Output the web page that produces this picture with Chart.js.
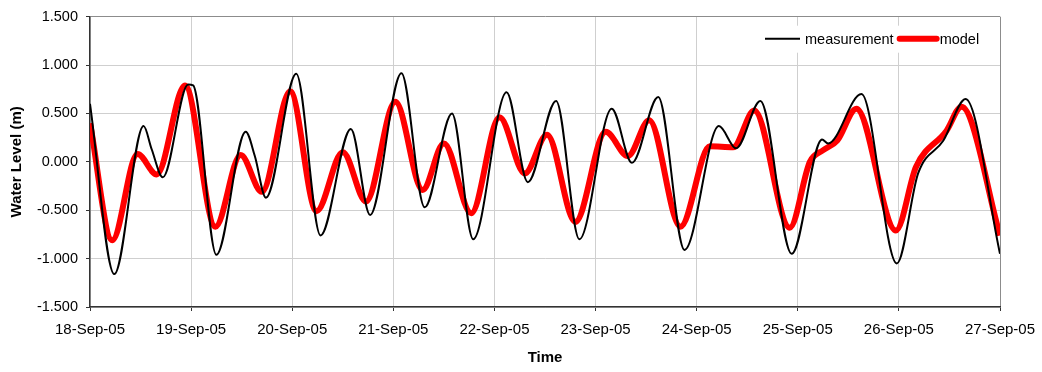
<!DOCTYPE html>
<html>
<head>
<meta charset="utf-8">
<script src="https://cdn.jsdelivr.net/npm/chart.js@4/dist/chart.umd.min.js"></script>
<style>
  html, body { margin: 0; padding: 0; background: #fff; }
</style>
</head>
<body>
<canvas id="myChart" width="1042" height="372"></canvas>
<script>
// x positions are days since 18-Sep-05 00:00
const dayLabels = [
    '18-Sep-05', '19-Sep-05', '20-Sep-05', '21-Sep-05', '22-Sep-05',
    '23-Sep-05', '24-Sep-05', '25-Sep-05', '26-Sep-05', '27-Sep-05'
];

const measTimes = [
    0.00, 0.24, 0.53, 0.61, 0.72, 0.97, 1.02, 1.25, 1.54, 1.63, 1.74,
    2.04, 2.28, 2.58, 2.77, 3.08, 3.31, 3.58, 3.79, 4.12, 4.33, 4.61,
    4.84, 5.16, 5.36, 5.62, 5.88, 6.22, 6.39, 6.63, 6.94, 7.24, 7.30,
    7.63, 7.98, 8.19, 8.44, 8.66, 9.00
];
const measLevels = [
    0.60, -1.16, 0.37, 0.13, -0.16, 0.80, 0.79, -0.96, 0.31, 0.06, -0.37,
    0.91, -0.76, 0.34, -0.55, 0.915, -0.47, 0.50, -0.80, 0.72, -0.21, 0.63,
    -0.80, 0.55, -0.01, 0.67, -0.91, 0.37, 0.14, 0.63, -0.95, 0.23, 0.19,
    0.70, -1.05, -0.12, 0.22, 0.65, -0.95
];

const modelTimes = [
    0.00, 0.22, 0.47, 0.66, 0.94, 1.24, 1.49, 1.70, 1.98, 2.24, 2.50,
    2.73, 3.02, 3.29, 3.50, 3.77, 4.05, 4.30, 4.52, 4.80, 5.10, 5.32,
    5.53, 5.84, 6.13, 6.36, 6.57, 6.92, 7.12, 7.25, 7.39, 7.58, 7.97,
    8.17, 8.47, 8.62, 9.00
];
const modelLevels = [
    0.40, -0.81, 0.08, -0.13, 0.79, -0.67, 0.07, -0.31, 0.73, -0.51, 0.10,
    -0.41, 0.62, -0.29, 0.19, -0.53, 0.46, -0.12, 0.28, -0.62, 0.31, 0.06,
    0.43, -0.67, 0.16, 0.15, 0.53, -0.68, 0.00, 0.12, 0.22, 0.55, -0.71,
    -0.05, 0.32, 0.57, -0.76
];

const toPoints = (xs, ys) => xs.map((x, i) => ({ x: x, y: ys[i] }));

const FONT = "'Liberation Sans', Arial, sans-serif";

// legend drawn inside the plot area, top right, on a white box
const boxLegend = {
    id: 'boxLegend',
    afterDatasetsDraw(chart) {
        const ctx = chart.ctx;
        const area = chart.chartArea;
        const cy = area.top + 22;
        let x = area.right - 235;
        ctx.save();
        ctx.fillStyle = '#fff';
        ctx.fillRect(x, area.top + 9, 220, 27);
        ctx.font = '14.5px ' + FONT;
        ctx.textBaseline = 'middle';
        ctx.fillStyle = '#000';
        chart.data.datasets.forEach((ds, i) => {
            const len = i === 0 ? 35 : 37;
            ctx.strokeStyle = ds.borderColor;
            ctx.lineWidth = ds.borderWidth;
            ctx.lineCap = i === 0 ? 'butt' : 'round';
            ctx.beginPath();
            ctx.moveTo(x, cy);
            ctx.lineTo(x + len, cy);
            ctx.stroke();
            x += len + (i === 0 ? 5 : 3);
            ctx.fillText(ds.label, x, cy + 1);
            x += ctx.measureText(ds.label).width + 6;
        });
        ctx.restore();
    }
};

const data = {
    datasets: [{
        label: 'measurement',
        data: toPoints(measTimes, measLevels),
        borderColor: '#000',
        borderWidth: 2,
        pointRadius: 0,
        cubicInterpolationMode: 'monotone'
    }, {
        label: 'model',
        data: toPoints(modelTimes, modelLevels),
        borderColor: '#ff0000',
        borderWidth: 6,
        pointRadius: 0,
        cubicInterpolationMode: 'monotone'
    }]
};

const config = {
    type: 'line',
    data,
    plugins: [boxLegend],
    options: {
        responsive: false,
        animation: false,
        devicePixelRatio: 1,
        layout: {
            padding: { top: 16, right: 42, left: 0, bottom: 0 }
        },
        plugins: {
            legend: { display: false },
            tooltip: { enabled: false }
        },
        scales: {
            x: {
                type: 'linear',
                min: 0,
                max: 9,
                afterFit: (scale) => {
                    scale.height = 65;
                    scale.paddingLeft = 0;
                    scale.paddingRight = 0;
                },
                ticks: {
                    stepSize: 1,
                    padding: 10,
                    color: '#000',
                    maxRotation: 0,
                    font: { family: FONT, size: 15 },
                    callback: (v) => dayLabels[v]
                },
                grid: {
                    color: (c) => c.tick && c.tick.value === 9 ? '#8c8c8c' : '#cfcfcf',
                    tickColor: '#333',
                    tickLength: 4
                },
                border: { color: '#333', width: 1.5 },
                title: {
                    display: true,
                    text: 'Time',
                    color: '#000',
                    font: { family: FONT, size: 15, weight: 'bold' },
                    padding: { top: 0, bottom: 5 }
                }
            },
            y: {
                min: -1.5,
                max: 1.5,
                afterFit: (scale) => { scale.width = 90; },
                ticks: {
                    stepSize: 0.5,
                    padding: 8,
                    color: '#000',
                    font: { family: FONT, size: 14.5 },
                    callback: (v) => v.toFixed(3)
                },
                grid: {
                    color: (c) => c.tick && c.tick.value === 1.5 ? '#8c8c8c' : '#cfcfcf',
                    tickColor: '#333',
                    tickLength: 4
                },
                border: { color: '#333', width: 1.5 },
                title: {
                    display: true,
                    text: 'Water Level (m)',
                    color: '#000',
                    font: { family: FONT, size: 15, weight: 'bold' },
                    padding: { top: 8, bottom: 0 }
                }
            }
        }
    }
};

var myChart = new Chart(
    document.getElementById('myChart'),
    config
);
</script>
</body>
</html>
